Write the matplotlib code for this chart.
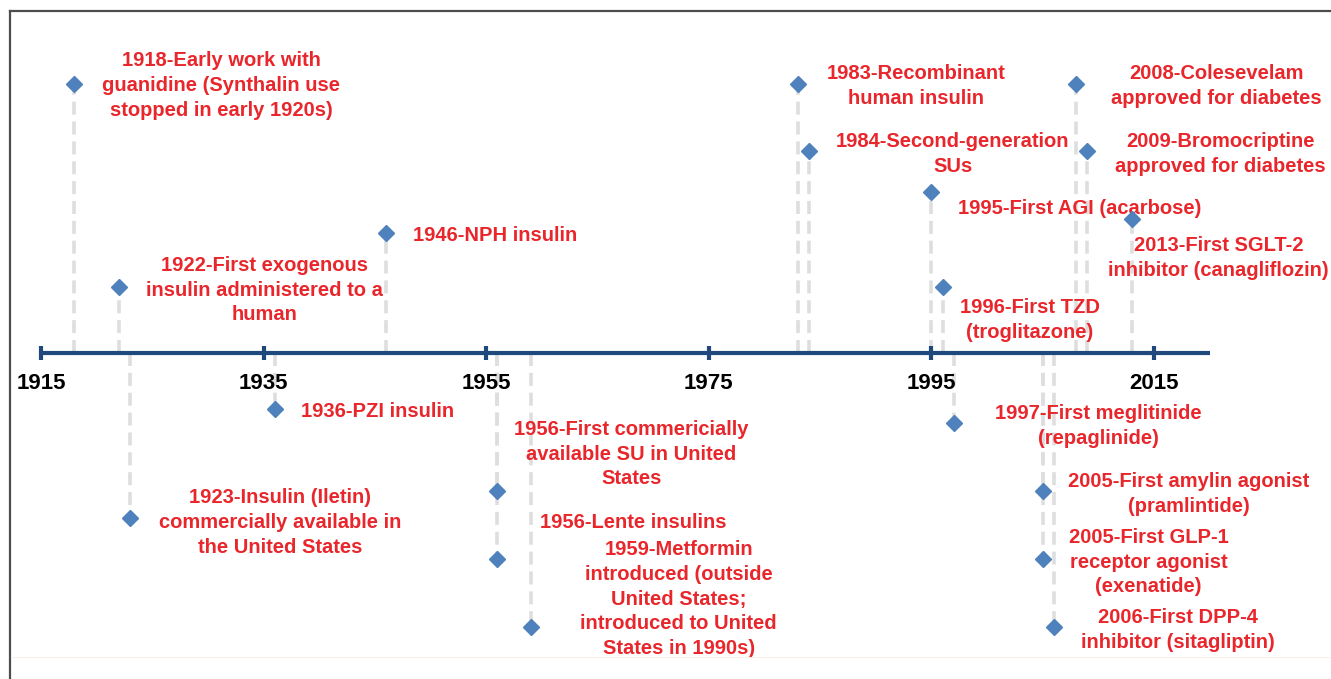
import matplotlib.pyplot as plt
from matplotlib.lines import Line2D

plt.rcParams['font.family'] = ['Liberation Sans', 'DejaVu Sans']

# events: year, level above(+)/below(-) the axis, label
years = [1918, 1922, 1946, 1983, 1984, 1995, 1996, 2008, 2009, 2013,
         1936, 1923, 1956, 1956, 1959, 1997, 2005, 2005, 2006]
levels = [3.96, 0.97, 1.76, 3.96, 2.97, 2.37, 0.97, 3.96, 2.97, 1.97,
          -0.82, -2.43, -2.03, -3.03, -4.03, -1.03, -2.03, -3.03, -4.03]
labels = [
    "1918-Early work with\nguanidine (Synthalin use\nstopped in early 1920s)",
    "1922-First exogenous\ninsulin administered to a\nhuman",
    "1946-NPH insulin",
    "1983-Recombinant\nhuman insulin",
    "1984-Second-generation\nSUs",
    "1995-First AGI (acarbose)",
    "1996-First TZD\n(troglitazone)",
    "2008-Colesevelam\napproved for diabetes",
    "2009-Bromocriptine\napproved for diabetes",
    "2013-First SGLT-2\ninhibitor (canagliflozin)",
    "1936-PZI insulin",
    "1923-Insulin (Iletin)\ncommercially available in\nthe United States",
    "1956-First commericially\navailable SU in United\nStates",
    "1956-Lente insulins",
    "1959-Metformin\nintroduced (outside\nUnited States;\nintroduced to United\nStates in 1990s)",
    "1997-First meglitinide\n(repaglinide)",
    "2005-First amylin agonist\n(pramlintide)",
    "2005-First GLP-1\nreceptor agonist\n(exenatide)",
    "2006-First DPP-4\ninhibitor (sitagliptin)",
]
# label offsets from the marker, in pixels
label_dx = [147, 146, 109, 118, 144, 148, 87, 140, 133, 87,
            103, 150, 134, 136, 148, 145, 146, 106, 124]
label_dy = [-2, -3, -2, -2, -3, -17, -33, -2, -3, -39,
            -3, -4, 37, 37, 28, -3, -3, -3, -3]

tick_years = [1915, 1935, 1955, 1975, 1995, 2015]
axis_start, axis_end = 1915, 2020

fig = plt.figure(figsize=(13.31, 6.79), dpi=100)
ax = fig.add_axes([0, 0, 1, 1])
ax.set_xlim(1911.316, 2030.90)
ax.set_ylim(-4.794, 5.191)
ax.axis('off')

red = '#e8262b'
blue = '#4f81bd'
navy = '#1f497d'

# stems
for yr, lv in zip(years, levels):
    ax.plot([yr, yr], [0, lv], color='#dedede', lw=2.6,
            linestyle=(0, (3.6, 1.9)), zorder=1, solid_capstyle='butt')

# timeline axis
ax.plot([axis_start, axis_end], [0, 0], color=navy, lw=3, zorder=3,
        solid_capstyle='butt')
ax.plot(tick_years, [0] * len(tick_years), linestyle='none', marker='|',
        markersize=10, markeredgewidth=3, color=navy, zorder=3)
for t in tick_years:
    ax.annotate(str(t), (t, 0), xytext=(0, -31), textcoords='offset pixels',
                ha='center', va='center', fontsize=16, fontweight='bold',
                color='black')

# markers and labels
ax.plot(years, levels, linestyle='none', marker='D', markersize=8.5,
        color=blue, zorder=4)
for yr, lv, txt, dx, dy in zip(years, levels, labels, label_dx, label_dy):
    ax.annotate(txt, (yr, lv), xytext=(dx, dy), textcoords='offset pixels',
                ha='center', va='center', multialignment='center',
                fontsize=14.5, fontweight='bold', color=red, linespacing=1.39)

# frame lines
fig.add_artist(Line2D([10 / 1331, 10 / 1331], [0, 1 - 11 / 679],
                      color='#4d4d4d', lw=1.6, transform=fig.transFigure))
fig.add_artist(Line2D([10 / 1331, 1], [1 - 11 / 679, 1 - 11 / 679],
                      color='#4d4d4d', lw=1.6, transform=fig.transFigure))
fig.add_artist(Line2D([11 / 1331, 1], [1 - 657 / 679, 1 - 657 / 679],
                      color='#fbefe8', lw=0.8, transform=fig.transFigure))

fig.savefig('out.png', dpi=100)
